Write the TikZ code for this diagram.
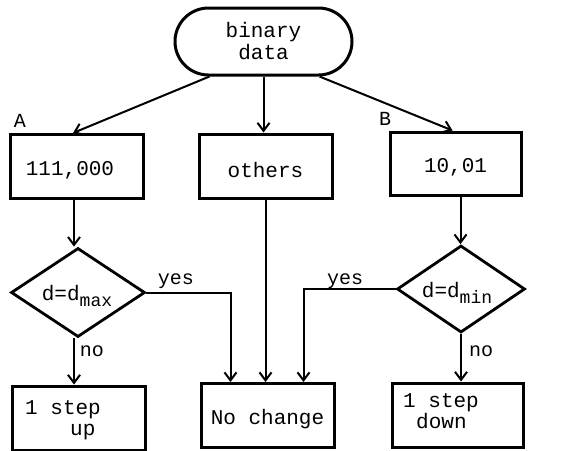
\documentclass[tikz,border=0pt]{standalone}
\usepackage{fontspec}
\newfontfamily\cour{Liberation Mono}
\usetikzlibrary{shapes.geometric,shapes.misc,arrows.meta}
\begin{document}
\begin{tikzpicture}[x=1pt,y=-1pt,
  every node/.style={font=\cour\fontsize{21}{25}\selectfont, inner sep=0pt},
  box/.style={draw, line width=3pt, minimum width=133, minimum height=64},
  dia/.style={draw, diamond, line width=2.8pt},
  term/.style={draw, rounded rectangle, line width=3pt, minimum width=177, minimum height=67, align=center},
  arr/.style={line width=2pt, -{Straight Barb[length=8pt,width=12pt,line width=2pt]}},
  lbl/.style={font=\cour\fontsize{20}{24}\selectfont}]
\useasboundingbox (0,0) rectangle (583,450);
\node[term] (top) at (263.5,41.5) {binary\\[-3pt]data};
\node[box] (boxA) at (77,166.5) {};
\node at (70,170) {111,000};
\node[box] (boxO) at (265.5,166) {};
\node at (265.5,170) {others};
\node[box, minimum width=131, minimum height=63] (boxB) at (455.5,163.5) {};
\node at (455.5,167) {10,01};
\node[lbl] (lA) at (20,121) {A};
\node[lbl] (lB) at (385,119) {B};
\node[dia, minimum width=134, minimum height=89] (dl) at (78,292.5) {};
\node at (77,296) {d=d{\fontsize{18}{20}\selectfont\raisebox{-6pt}{max}}};
\node[dia, minimum width=128, minimum height=87] (dr) at (461,289) {};
\node at (457,293) {d=d{\fontsize{18}{20}\selectfont\raisebox{-6pt}{min}}};
\node[box] (up) at (78.5,418) {};
\node[align=left, anchor=north west] at (25,400) {1 step\\[-4pt]\hspace*{45pt}up};
\node[box] (nc) at (267.5,415.5) {};
\node at (267.5,419) {No change};
\node[box, minimum width=131, minimum height=64] (down) at (457.5,415) {};
\node[align=left, anchor=north west] at (403,393) {1 step\\[-4pt]\hspace*{13pt}down};
\draw[arr] ([xshift=-54pt]top.south) -- ([xshift=-4pt]boxA.north);
\draw[arr] ([xshift=0pt]top.south) -- (top.south |- boxO.north);
\draw[arr] ([xshift=56pt]top.south) -- ([xshift=-3pt]boxB.north);
\draw[arr] ([xshift=-3pt]boxA.south) -- ([xshift=-3pt]boxA.south |- dl.north);
\draw[arr] ([xshift=5pt]boxB.south) -- ([xshift=5pt]boxB.south |- dr.north);
\draw[arr] (dl.east) -| ([xshift=-37pt]nc.north);
\draw[arr] (dr.west) -| ([xshift=36pt]nc.north);
\draw[arr] (boxO.south) -- (boxO.south |- nc.north);
\draw[arr] ([xshift=-4pt]dl.south) -- ([xshift=-4pt]dl.south |- up.north);
\draw[arr] (dr.south) -- (dr.south |- down.north);
\node[lbl] at (176,281) {yes};
\node[lbl] at (345,281) {yes};
\node[lbl] at (92,351) {no};
\node[lbl] at (481,351) {no};
\end{tikzpicture}
\end{document}
